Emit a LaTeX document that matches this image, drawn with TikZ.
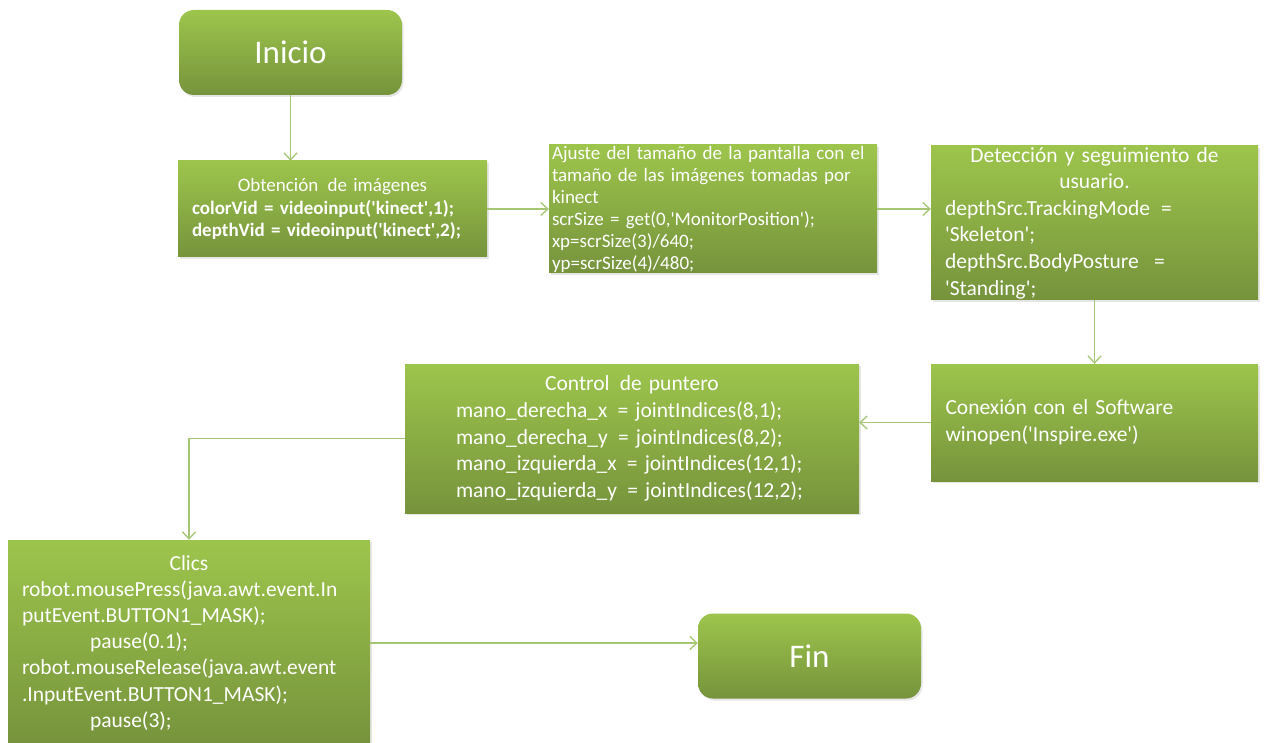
\documentclass[tikz,border=0pt]{standalone}
\usepackage{fontspec}
\setmainfont{Carlito}[Ligatures=TeXOff]
\usetikzlibrary{arrows.meta,shadows}

\definecolor{verdearriba}{HTML}{9DC54C}
\definecolor{verdeabajo}{HTML}{76933C}
\definecolor{verdelinea}{HTML}{A5C673}
\newcommand{\centrado}[1]{\hfill#1\hfill\null}
\hyphenpenalty=10000
\exhyphenpenalty=10000

\begin{document}
\begin{tikzpicture}[x=1pt, y=-1pt,
    caja/.style={rectangle, top color=verdearriba, bottom color=verdeabajo, text=white,
        drop shadow={shadow xshift=1.5pt, shadow yshift=-2pt, opacity=0.2}},
    terminal/.style={caja, rounded corners=15pt, minimum width=223pt, minimum height=85pt,
        font=\fontsize{33}{40}\selectfont},
    proceso/.style={caja, align=left, inner ysep=0pt, font=\fontsize{21.5}{26.6}\selectfont},
    flecha/.style={draw=verdelinea, line width=1.3pt, -{Straight Barb[length=7pt,width=13pt]}}]

    % Marco del dibujo
    \useasboundingbox (0,0) rectangle (1269,743);

    % Inicio y fin
    \node[terminal] (inicio) at (290.5,52.5) {Inicio};
    \node[terminal] (fin) at (809.5,656) {Fin};

    % Primera fila
    \node[proceso, minimum width=309pt, minimum height=96pt, text width=281pt, inner xsep=14pt,
        font=\fontsize{19}{22.5}\selectfont] (obtencion) at (332.5,209)
        {\centrado{Obtención\hspace{3pt} de imágenes}\\
         \textbf{colorVid = videoinput('kinect',1);}\\
         \textbf{depthVid = videoinput('kinect',2);}};
    \node[proceso, minimum width=328pt, minimum height=128pt, text width=322pt, inner xsep=3pt,
        font=\fontsize{19}{22}\selectfont] (ajuste) at (713,209)
        {Ajuste del tamaño de la pantalla con el\\
         tamaño de las imágenes tomadas por\\
         kinect\\
         scrSize = get(0,'MonitorPosition');\\
         xp=scrSize(3)/640;\\
         yp=scrSize(4)/480;};
    \node[proceso, minimum width=327pt, minimum height=154pt, text width=299pt, inner xsep=14pt]
        (deteccion) at (1094.5,223)
        {\centrado{Detección y seguimiento de}\\
         \centrado{usuario.}\\
         depthSrc.TrackingMode\hspace{4pt} =\\
         'Skeleton';\\
         depthSrc.BodyPosture\hspace{8pt} =\\
         'Standing';};

    % Segunda fila
    \node[proceso, minimum width=327pt, minimum height=117pt, text width=298pt, inner xsep=14.5pt]
        (conexion) at (1094.5,422.5)
        {Conexión con el Software\\
         winopen('Inspire.exe')};
    \node[proceso, minimum width=454pt, minimum height=149pt, text width=352pt, inner xsep=51pt]
        (control) at (632,438.5)
        {\centrado{Control\hspace{3pt} de puntero}\\
         mano\_derecha\_x\hspace{3pt} = jointIndices(8,1);\\
         mano\_derecha\_y\hspace{3pt} = jointIndices(8,2);\\
         mano\_izquierda\_x\hspace{3pt} = jointIndices(12,1);\\
         mano\_izquierda\_y\hspace{3pt} = jointIndices(12,2);};

    % Clics
    \node[proceso, minimum width=362pt, minimum height=206pt, text width=334pt, inner xsep=14pt,
        font=\fontsize{21.5}{26.2}\selectfont] (clics) at (189,643)
        {\centrado{Clics}\\
         robot.mousePress(java.awt.event.In\\
         putEvent.BUTTON1\_MASK);\\
         \hspace*{68pt}pause(0.1);\\
         robot.mouseRelease(java.awt.event\\
         .InputEvent.BUTTON1\_MASK);\\
         \hspace*{68pt}pause(3);};

    % Flechas
    \draw[flecha] (inicio.south) -- (inicio.south |- obtencion.north);
    \draw[flecha] (obtencion.east) -- (ajuste.west);
    \draw[flecha] (ajuste.east) -- (ajuste.east -| deteccion.west);
    \draw[flecha] (deteccion.south) -- (conexion.north);
    \draw[flecha] (conexion.west) -- (conexion.west -| control.east);
    \draw[flecha] (control.west) -| (clics.north);
    \draw[flecha] (clics.east) -- (clics.east -| fin.west);

\end{tikzpicture}
\end{document}
